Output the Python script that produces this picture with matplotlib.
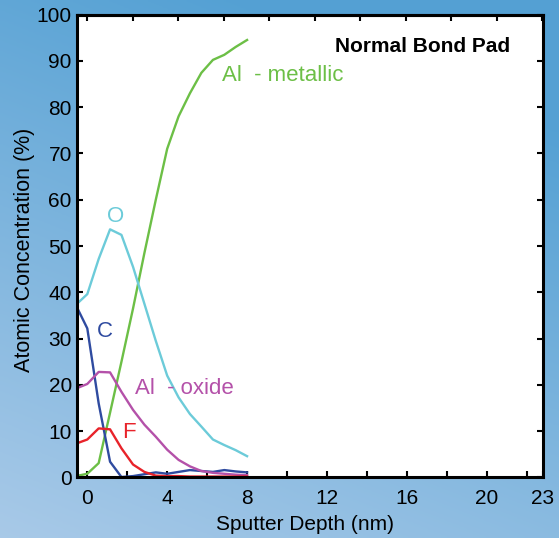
import numpy as np
import matplotlib.pyplot as plt

plt.rcParams['font.family'] = ['Liberation Sans', 'DejaVu Sans']

# Sputter depth (nm) of each measured point
depth = [-0.57, 0.0, 0.57, 1.14, 1.71, 2.29, 2.86, 3.43, 4.0, 4.57, 5.14, 5.71, 6.29, 6.86, 7.43, 8.0]

# Atomic concentration (%) for each element
al_metallic = [0.3, 0.8, 3.1, 14.0, 25.0, 36.5, 48.5, 60.0, 71.0, 78.0, 83.0, 87.4, 90.2, 91.3, 93.0, 94.5]
oxygen = [37.3, 39.6, 47.2, 53.6, 52.4, 45.5, 37.5, 29.5, 22.0, 17.3, 13.7, 11.0, 8.2, 7.0, 5.9, 4.6]
carbon = [37.2, 32.2, 16.0, 3.4, 0.1, 0.3, 0.7, 1.1, 0.8, 1.2, 1.6, 1.4, 1.2, 1.6, 1.3, 1.1]
al_oxide = [19.2, 20.2, 22.8, 22.7, 18.5, 14.6, 11.4, 8.8, 6.0, 3.8, 2.4, 1.4, 1.0, 0.8, 0.6, 0.5]
fluorine = [7.3, 8.2, 10.6, 10.4, 6.3, 2.8, 1.2, 0.4, 0.3, 0.3, 0.2, 0.2, 0.2, 0.2, 0.2, 0.2]

x_ticks = [0, 4, 8, 12, 16, 20, 22.8]
x_tick_labels = ['0', '4', '8', '12', '16', '20', '23']

green = '#6cbf46'
cyan = '#6ccbd9'
blue = '#2f4ba0'
magenta = '#b451a9'
red = '#e8232a'

fig = plt.figure(figsize=(5.59, 5.38), dpi=100)

# blue gradient background
bg = fig.add_axes([0, 0, 1, 1])
u, v = np.meshgrid(np.linspace(0, 1, 200), np.linspace(1, 0, 200))
s = np.clip(1.0 - 0.85 * v - 0.35 * u, 0, 1)[..., None]
top_c = np.array([0.33, 0.63, 0.83])
light_c = np.array([0.66, 0.79, 0.91])
bg.imshow(top_c + s * (light_c - top_c), aspect='auto', extent=[0, 1, 0, 1])
bg.axis('off')

ax = fig.add_axes([0.1383, 0.1125, 0.8325, 0.8605])
ax.set_facecolor('white')

lw = 1.7
ax.plot(depth, al_metallic, color=green, lw=lw)
ax.plot(depth, oxygen, color=cyan, lw=lw)
ax.plot(depth, carbon, color=blue, lw=lw)
ax.plot(depth, al_oxide, color=magenta, lw=lw)
ax.plot(depth, fluorine, color=red, lw=lw)

fs_lab = 16
ax.text(6.73, 86.9, 'Al  - metallic', color=green, fontsize=fs_lab, ha='left', va='center')
ax.text(1.4, 56.3, 'O', color=cyan, fontsize=fs_lab, ha='center', va='center')
ax.text(0.9, 31.5, 'C', color=blue, fontsize=fs_lab, ha='center', va='center')
ax.text(2.4, 19.2, 'Al  - oxide', color=magenta, fontsize=fs_lab, ha='left', va='center')
ax.text(2.1, 9.7, 'F', color=red, fontsize=fs_lab, ha='center', va='center')
ax.text(16.8, 93.0, 'Normal Bond Pad', fontsize=15, fontweight='bold', ha='center', va='center')

ax.set_xlim(-0.5, 22.8)
ax.set_ylim(0, 100)
ax.set_xticks(x_ticks)
ax.set_xticklabels(x_tick_labels)
ax.set_xticks([2, 6, 10, 14, 18, 22], minor=True)
ax.set_yticks(np.arange(0, 101, 10))

for sp in ax.spines.values():
    sp.set_linewidth(2.2)
ax.tick_params(axis='both', which='both', direction='in', width=1.5, labelsize=15, colors='black')
ax.tick_params(axis='x', which='both', length=4, pad=8)
ax.tick_params(axis='y', which='both', length=4.5, pad=4, right=True)

top = ax.secondary_xaxis('top', functions=(lambda x: x / 2.277, lambda x: x * 2.277))
top.set_xticks(range(0, 11))
top.tick_params(direction='in', length=4.5, width=1.5, labeltop=False)
top.spines['top'].set_linewidth(2.2)

fig.text(305 / 559, 1 - 525 / 538, 'Sputter Depth (nm)', fontsize=15, ha='center', va='center')
fig.text(25 / 559, 1 - 250 / 538, 'Atomic Concentration (%)', fontsize=15.5,
         ha='center', va='center', rotation=90)

fig.savefig('out.png', dpi=100)
